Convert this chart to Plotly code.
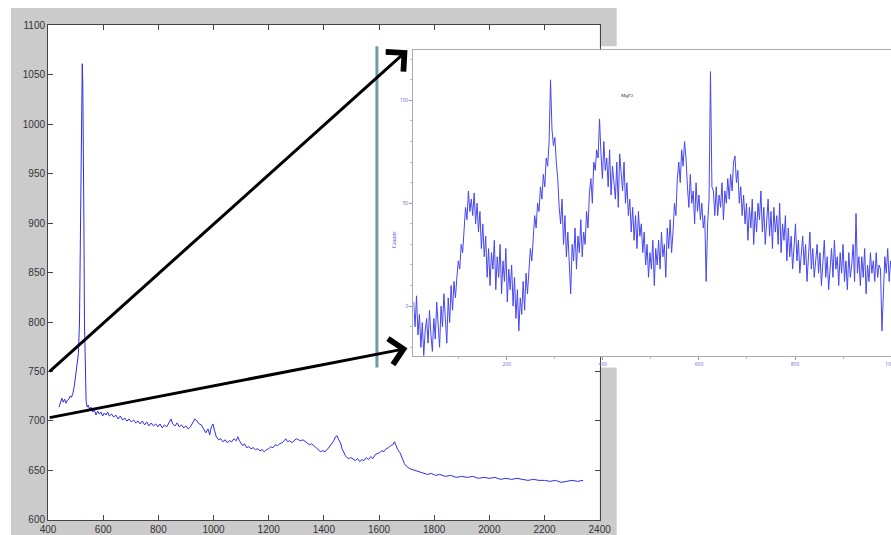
import plotly.graph_objects as go

REF_W, REF_H = 891, 535
K = 0.977                      # observed capture scale of the page
W, H = round(REF_W / K), round(REF_H / K)
SHIFT = 7                      # observed capture offset (px)

# ---------------- main spectrum ----------------
main_x = [440, 445, 450, 455, 460, 465, 470, 475, 480, 485, 490, 495, 500, 505, 510, 514, 517, 520, 522, 524,
          526, 528, 530, 532, 535, 538, 542, 546, 550, 556, 562, 568, 574, 580, 586, 592, 598, 604, 610, 616,
          622, 630, 638, 646, 654, 662, 670, 678, 686, 694, 702, 710, 718, 726, 734, 742, 750, 758, 766, 774,
          782, 790, 798, 806, 814, 822, 830, 838, 846, 852, 860, 868, 876, 884, 892, 900, 908, 916, 924, 932,
          940, 948, 956, 964, 972, 980, 986, 992, 998, 1004, 1010, 1018, 1026, 1034, 1042, 1050, 1058, 1066, 1074, 1082,
          1088, 1094, 1100, 1106, 1112, 1120, 1128, 1136, 1144, 1152, 1160, 1168, 1176, 1184, 1192, 1200, 1208, 1216, 1224, 1232,
          1240, 1248, 1256, 1262, 1268, 1276, 1284, 1292, 1300, 1308, 1316, 1324, 1332, 1340, 1348, 1356, 1364, 1372, 1380, 1388,
          1396, 1404, 1412, 1420, 1428, 1436, 1442, 1448, 1454, 1460, 1466, 1472, 1478, 1484, 1490, 1498, 1506, 1514, 1522, 1530,
          1538, 1546, 1554, 1562, 1570, 1578, 1586, 1594, 1602, 1610, 1618, 1626, 1634, 1642, 1650, 1656, 1662, 1668, 1676, 1684,
          1692, 1700, 1710, 1720, 1730, 1740, 1750, 1760, 1775, 1790, 1805, 1820, 1840, 1860, 1880, 1900, 1920, 1940, 1960, 1980,
          2000, 2020, 2040, 2060, 2080, 2100, 2120, 2140, 2160, 2180, 2200, 2220, 2240, 2260, 2280, 2300, 2320, 2340]
main_y = [714, 720, 723, 719, 722, 718, 721, 722, 725, 724, 728, 735, 745, 755, 768, 800, 900, 1000, 1050, 1061,
          1040, 990, 900, 800, 740, 720, 714, 716, 712, 714, 709, 711, 706, 710, 707, 709, 705, 708, 706, 709,
          705, 707, 704, 706, 702, 705, 701, 703, 700, 702, 699, 701, 698, 700, 697, 700, 696, 699, 695, 698,
          695, 697, 694, 697, 693, 696, 694, 698, 702, 697, 695, 698, 694, 696, 693, 695, 692, 694, 698, 702,
          700, 697, 696, 692, 688, 692, 686, 694, 697, 690, 684, 681, 682, 679, 681, 678, 680, 679, 682, 680,
          684, 680, 678, 675, 677, 673, 674, 672, 673, 671, 672, 670, 671, 669, 671, 672, 674, 673, 676, 675,
          677, 678, 680, 682, 679, 680, 678, 680, 682, 681, 680, 681, 679, 678, 676, 677, 675, 672, 670, 669,
          670, 669, 671, 674, 676, 680, 684, 685, 681, 678, 672, 668, 665, 663, 662, 663, 661, 660, 662, 659,
          661, 660, 663, 661, 664, 662, 666, 667, 668, 670, 669, 672, 673, 675, 676, 679, 675, 671, 668, 662,
          657, 654, 652, 651, 650, 649, 648, 647, 646, 647, 645, 646, 644, 645, 643, 644, 643, 644, 642, 643,
          642, 643, 641, 642, 641, 642, 641, 640, 641, 640, 640, 639, 640, 638, 639, 640, 639, 640]

main_xticks = [400, 600, 800, 1000, 1200, 1400, 1600, 1800, 2000, 2200, 2400]
main_yticks = [600, 650, 700, 750, 800, 850, 900, 950, 1000, 1050, 1100]

# ---------------- inset spectrum (MgF2) ----------------
inset_x = list(range(6, 1005, 3))
inset_y = [2, -10, 5, -14, -4, -20, -8, -24, -12, -6,
           -18, -2, -14, -22, -6, -16, 2, -12, -20, 0,
           -10, 6, -6, -18, 4, -8, 10, -2, 12, 4,
           14, 22, 18, 30, 26, 40, 48, 42, 56, 46,
           52, 44, 55, 40, 50, 36, 46, 28, 40, 24,
           34, 14, 28, 10, 26, 18, 32, 8, 24, 14,
           30, 6, 22, 12, 28, 2, 18, 8, 20, 0,
           14, -6, 8, -12, 4, -4, 12, -2, 16, 6,
           20, 28, 22, 36, 44, 38, 50, 46, 58, 52,
           64, 58, 72, 68, 80, 110, 86, 78, 82, 70,
           62, 48, 40, 52, 30, 44, 24, 36, 18, 6,
           30, 22, 38, 18, 34, 26, 42, 24, 36, 30,
           46, 38, 55, 62, 50, 70, 66, 76, 72, 91,
           74, 62, 80, 66, 72, 58, 76, 54, 68, 60,
           52, 70, 48, 74, 62, 56, 70, 50, 60, 44,
           52, 36, 48, 32, 44, 28, 46, 34, 40, 26,
           36, 20, 30, 14, 26, 18, 32, 10, 28, 20,
           32, 18, 36, 24, 30, 14, 38, 28, 42, 26,
           36, 50, 44, 62, 70, 60, 76, 68, 80, 72,
           58, 48, 64, 50, 56, 40, 60, 46, 54, 42,
           50, 38, 44, 12, 40, 52, 114, 58, 56, 44,
           58, 44, 54, 48, 60, 42, 56, 50, 62, 52,
           64, 56, 70, 73, 60, 66, 50, 58, 44, 54,
           40, 50, 32, 48, 38, 52, 30, 46, 36, 50,
           42, 56, 36, 48, 30, 44, 52, 34, 46, 28,
           48, 36, 44, 30, 50, 26, 40, 32, 44, 22,
           38, 24, 34, 18, 30, 40, 22, 32, 16, 28,
           34, 20, 30, 12, 26, 36, 18, 28, 14, 24,
           30, 16, 26, 10, 22, 32, 14, 24, 8, 20,
           28, 14, 32, 18, 24, 10, 26, 16, 30, 12,
           22, 8, 26, 14, 20, 30, 12, 45, 16, 24,
           10, 24, 14, 28, 6, 20, 12, 26, 16, 22,
           12, 26, 14, 20, 18, -12, 10, 24, 16, 28,
           12, 22, 16]
inset_xticks = [200, 400, 600, 800, 1000]
inset_yticks = [0, 50, 100]


def px(x):
    return x / REF_W


def py(y):
    return 1 - y / REF_H


def s(v):
    return v / K


fig = go.Figure()
fig.add_trace(go.Scatter(x=main_x, y=main_y, mode="lines",
                         line=dict(color="rgb(45,45,230)", width=1), xaxis="x", yaxis="y",
                         hoverinfo="skip"))
fig.add_trace(go.Scatter(x=inset_x, y=inset_y, mode="lines",
                         line=dict(color="rgb(70,70,240)", width=1), xaxis="x2", yaxis="y2",
                         hoverinfo="skip"))

shapes = [
    dict(type="rect", xref="paper", yref="paper", x0=px(10), x1=px(615), y0=0, y1=py(10),
         fillcolor="#cbcbcb", line=dict(width=0), layer="below"),
    dict(type="rect", xref="paper", yref="paper", x0=px(47), x1=px(598), y0=py(520), y1=py(27),
         fillcolor="white", line=dict(width=0), layer="below"),
    dict(type="rect", xref="paper", yref="paper", x0=px(374), x1=1, y0=py(368), y1=py(48),
         fillcolor="white", line=dict(width=0), layer="below"),
    dict(type="line", xref="paper", yref="paper", x0=px(375.5), x1=px(375.5), y0=py(368), y1=py(48),
         line=dict(color="rgb(110,155,170)", width=3), layer="below"),
]

annotations = [
    dict(xref="paper", yref="paper", x=px(406), y=py(52), ax=s(-351), ay=s(315), text="",
         showarrow=True, arrowhead=4, arrowsize=1.7, arrowwidth=3, arrowcolor="black", standoff=0),
    dict(xref="paper", yref="paper", x=px(406), y=py(349), ax=s(-351), ay=s(68), text="",
         showarrow=True, arrowhead=4, arrowsize=1.7, arrowwidth=3, arrowcolor="black", standoff=0),
    dict(xref="paper", yref="paper", x=px(634), y=py(93), text="MgF2", showarrow=False,
         font=dict(size=5, color="#222", family="Liberation Serif")),
    dict(xref="paper", yref="paper", x=px(392), y=py(240), text="Counts", showarrow=False, textangle=-90,
         font=dict(size=6, color="#5555dd", family="Liberation Serif")),
]

fig.update_layout(
    width=W, height=H, margin=dict(l=0, r=0, t=0, b=0),
    paper_bgcolor="white", plot_bgcolor="white", showlegend=False,
    shapes=shapes, annotations=annotations,
    xaxis=dict(domain=[px(47), px(598)], range=[400, 2400], tickvals=main_xticks,
               ticks="inside", ticklen=5, tickcolor="#444", showline=True, linecolor="#444", linewidth=1,
               mirror="ticks", showgrid=False, zeroline=False,
               tickfont=dict(size=10, color="#333", family="Liberation Sans"), anchor="y"),
    yaxis=dict(domain=[py(520), py(27)], range=[600, 1100], tickvals=main_yticks,
               ticks="inside", ticklen=5, tickcolor="#444", showline=True, linecolor="#444", linewidth=1,
               mirror="ticks", showgrid=False, zeroline=False,
               tickfont=dict(size=10, color="#333", family="Liberation Sans"), anchor="x"),
    xaxis2=dict(domain=[px(412), 1], range=[5.6, 1004], tickvals=inset_xticks,
                ticks="outside", ticklen=3, tickcolor="#999", showline=True, linecolor="#aaa",
                mirror=True, showgrid=False, zeroline=False,
                minor=dict(dtick=100, ticks="outside", ticklen=2, tickcolor="#bbb"),
                tickfont=dict(size=5, color="#6666cc"), anchor="y2"),
    yaxis2=dict(domain=[py(357), py(52)], range=[-24.4, 124.4], tickvals=inset_yticks,
                ticks="outside", ticklen=3, tickcolor="#999", showline=True, linecolor="#aaa",
                mirror=False, showgrid=False, zeroline=False,
                minor=dict(dtick=10, ticks="outside", ticklen=2, tickcolor="#bbb"),
                tickfont=dict(size=5, color="#6666cc"), anchor="x2"),
)

post = (
    "document.documentElement.style.margin='0px';"
    "document.documentElement.style.overflow='hidden';"
    "document.body.style.margin='0px';"
    "document.body.style.overflow='hidden';"
    "var d=document.getElementById('{plot_id}');"
    "d.style.position='fixed';d.style.left='-%dpx';d.style.top='-%dpx';" % (SHIFT, SHIFT)
)
fig.write_html("out.html", config={"displayModeBar": False}, post_script=post)
